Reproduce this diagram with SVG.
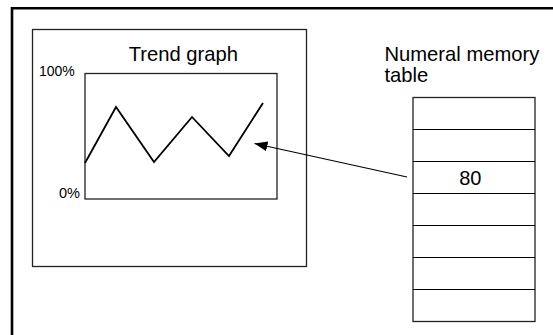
<svg xmlns="http://www.w3.org/2000/svg" width="553" height="335" viewBox="0 0 553 335">
<style>
.t{font-family:"Liberation Sans",Arial,sans-serif;fill:#000}
.box{fill:none;stroke:#222;stroke-width:1.3}
.row{stroke:#000;stroke-width:1.2}
</style>
<defs>
<marker id="ah" markerWidth="14" markerHeight="12" refX="13" refY="5" orient="auto" markerUnits="userSpaceOnUse">
<path d="M0,0 L13,5 L0,10 Z" fill="#000"/>
</marker>
</defs>
<rect width="553" height="335" fill="#fff"/>
<path d="M12,336 V8.3 H554" fill="none" stroke="#000" stroke-width="2.6"/>
<g id="screen">
<rect class="box" x="32.5" y="29.5" width="274" height="237"/>
<text class="t" x="183.3" y="61" font-size="20.2" text-anchor="middle">Trend graph</text>
</g>
<g id="graph">
<rect class="box" x="85" y="73.5" width="192" height="125.5"/>
<text class="t" x="39" y="75.5" font-size="14">100%</text>
<text class="t" x="80" y="198" font-size="14.5" text-anchor="end">0%</text>
<polyline points="85,163 116,107 154,162 192,117 229,156 263,103" fill="none" stroke="#000" stroke-width="1.8"/>
</g>
<g id="table">
<text class="t" font-size="20.2"><tspan x="384.5" y="61">Numeral memory</tspan><tspan x="384.5" y="82">table</tspan></text>
<rect class="box" x="413" y="97.5" width="122" height="224"/>
<line class="row" x1="413" y1="129.5" x2="535" y2="129.5"/>
<line class="row" x1="413" y1="161.5" x2="535" y2="161.5"/>
<line class="row" x1="413" y1="193.5" x2="535" y2="193.5"/>
<line class="row" x1="413" y1="225.5" x2="535" y2="225.5"/>
<line class="row" x1="413" y1="257.5" x2="535" y2="257.5"/>
<line class="row" x1="413" y1="289.5" x2="535" y2="289.5"/>
<text class="t" x="470.3" y="185" font-size="20" text-anchor="middle">80</text>
</g>
<g id="connectors">
<line x1="407" y1="177" x2="254.5" y2="143.5" stroke="#000" stroke-width="1.1" marker-end="url(#ah)"/>
</g>
</svg>
